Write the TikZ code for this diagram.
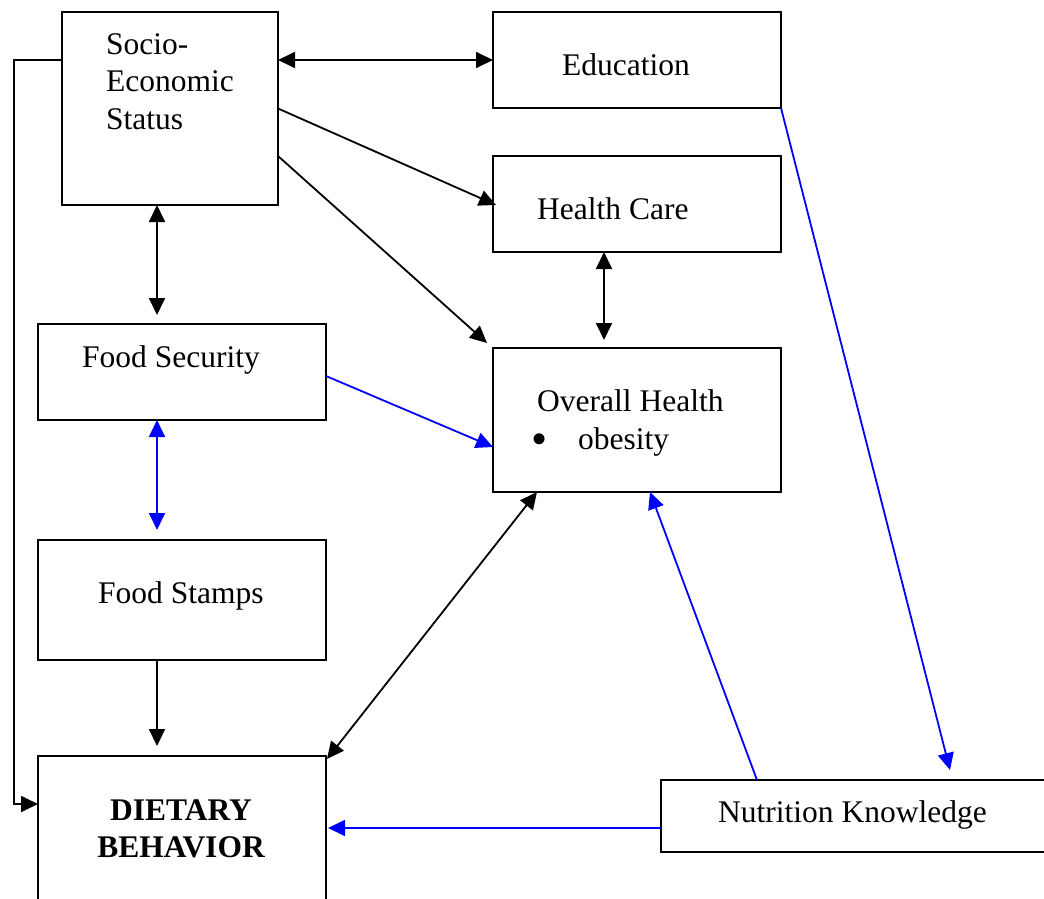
\documentclass[tikz,border=0pt]{standalone}
\usepackage{fontspec}
\setmainfont{Liberation Serif}
\usetikzlibrary{arrows.meta,calc}
\definecolor{lnblue}{RGB}{0,0,255}
\tikzset{
  box/.style={draw=black, line width=2.4pt, rectangle, inner sep=0pt, outer sep=0pt, fill=white},
  txt/.style={anchor=base west, inner sep=0pt, font=\fontsize{31.5}{37}\selectfont},
  conn/.style={line width=1.8pt, draw=black, arrows={-Triangle[length=17pt,width=16pt]}},
  bconn/.style={conn, draw=lnblue, fill=lnblue, color=lnblue},
  both/.style={arrows={Triangle[length=17pt,width=16pt]-Triangle[length=17pt,width=16pt]}}
}
\begin{document}
\begin{tikzpicture}[x=1pt,y=-1pt]
\useasboundingbox (0,0) rectangle (1044,899);
\clip (0,0) rectangle (1044,899);
% boxes
\node[box, minimum width=216pt, minimum height=193pt] (ses) at (170,108.5) {};
\node[box, minimum width=288pt, minimum height=96pt] (edu) at (637,60) {};
\node[box, minimum width=288pt, minimum height=96pt] (hc) at (637,204) {};
\node[box, minimum width=288pt, minimum height=96pt] (fsec) at (182,372) {};
\node[box, minimum width=288pt, minimum height=144pt] (oh) at (637,420) {};
\node[box, minimum width=288pt, minimum height=120pt] (fst) at (182,600) {};
\node[box, minimum width=288pt, minimum height=164pt] (diet) at (182,838) {};
\node[box, minimum width=399pt, minimum height=72pt] (nk) at (860.5,816) {};
% texts
\node[txt] (t1) at (106,55) {Socio-};
\node[txt] (t2) at (106,92) {Economic};
\node[txt] (t3) at (106,129) {Status};
\node[txt] (t4) at (562,75) {Education};
\node[txt] (t5) at (537,219) {Health Care};
\node[txt] (t6) at (82,367) {Food Security};
\node[txt] (t7) at (537,411) {Overall Health};
\node[txt, font=\fontsize{46}{46}\selectfont] (t8) at (531,454) {•};
\node[txt] (t9) at (578,449) {obesity};
\node[txt] (t10) at (98,603) {Food Stamps};
\node[txt, anchor=base, font=\fontsize{31.5}{37}\selectfont\bfseries] (t11) at (181,820) {DIETARY};
\node[txt, anchor=base, font=\fontsize{31.5}{37}\selectfont\bfseries] (t12) at (181,857) {BEHAVIOR};
\node[txt] (t13) at (718,822) {Nutrition Knowledge};
% black connectors
\draw[conn, both] (ses.east |- edu.west) -- (edu.west);
\draw[conn] (ses.east) -- ($(hc.west)+(3,1)$);
\draw[conn] ($(ses.east)+(0,47.5)$) -- ($(oh.north west)+(-6,-5)$);
\draw[conn, both] ($(ses.south)+(-13,0)$) -- ($(fsec.north)+(-25,-9)$);
\draw[conn, both] ($(hc.south)+(-33,0)$) -- ($(oh.north)+(-33,-8)$);
\draw[conn] ($(fst.south)+(-25,0)$) -- ($(diet.north)+(-25,-10)$);
\draw[conn, both] ($(diet.north east)+(1,3)$) -- ($(oh.south west)+(44,0)$);
\draw[conn] (ses.west |- edu.west) -| ($(diet.west)+(-24,-34)$) -- ($(diet.west)+(0,-34)$);
% blue connectors
\draw[bconn] ($(fsec.east)+(0,4)$) -- ($(oh.west)+(0,27)$);
\draw[bconn, both] ($(fsec.south)+(-25,0)$) -- ($(fst.north)+(-25,-10)$);
\draw[bconn] ($(nk.north west)+(96,0)$) -- ($(oh.south west)+(157,0)$);
\draw[bconn] (edu.south east) -- ($(nk.north west)+(289,-10)$);
\draw[bconn] ($(nk.west)+(0,12)$) -- ($(diet.east |- nk.west)+(2,12)$);
\end{tikzpicture}
\end{document}
